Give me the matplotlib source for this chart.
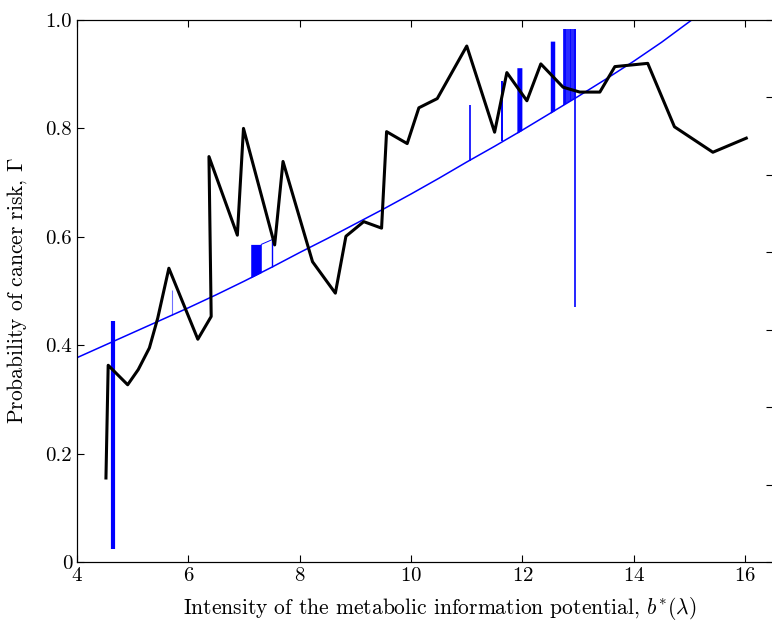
import numpy as np
import matplotlib.pyplot as plt

# observed probability of cancer risk vs metabolic information potential
b_obs = [4.52, 4.56, 4.91, 5.10, 5.30, 5.45, 5.65, 6.17, 6.41, 6.37, 6.88, 6.99,
         7.55, 7.70, 8.23, 8.64, 8.83, 9.15, 9.47, 9.56, 9.93, 10.14, 10.47,
         11.00, 11.50, 11.72, 12.08, 12.33, 12.73, 13.03, 13.39, 13.66, 14.25,
         14.73, 15.42, 16.02]
p_obs = [0.155, 0.363, 0.327, 0.355, 0.395, 0.450, 0.542, 0.411, 0.453, 0.748,
         0.603, 0.800, 0.585, 0.739, 0.554, 0.496, 0.601, 0.628, 0.616, 0.794,
         0.772, 0.838, 0.855, 0.952, 0.793, 0.903, 0.851, 0.919, 0.876, 0.867,
         0.867, 0.914, 0.920, 0.803, 0.756, 0.782]

# fitted risk curve
b_fit = [4.0, 4.5, 5.0, 5.5, 6.0, 6.5, 7.0, 7.5, 8.0, 8.5, 9.0, 9.5, 10.0,
         10.5, 11.0, 11.5, 12.0, 12.5, 13.0, 13.5, 14.0, 14.5, 15.04]
p_fit = [0.377, 0.400, 0.423, 0.446, 0.469, 0.493, 0.518, 0.544, 0.571, 0.597,
         0.624, 0.651, 0.679, 0.708, 0.738, 0.767, 0.797, 0.828, 0.859, 0.891,
         0.924, 0.959, 1.0]

# deviation bars (x, lower, upper)
bar_x = [4.64, 5.70, 7.51, 11.05, 11.64, 12.94]
bar_lo = [0.024, 0.456, 0.545, 0.739, 0.776, 0.470]
bar_hi = [0.445, 0.502, 0.595, 0.843, 0.888, 0.983]
bar_lw = [3.0, 0.8, 1.0, 1.2, 1.4, 1.2]
bar_col = ['#0000ff', '#7070ff', '#0000ff', '#0000ff', '#0000ff', '#0000ff']

# dense bar blocks (x start, x end, upper)
blk_x0 = [7.12, 11.90, 12.50]
blk_x1 = [7.31, 11.99, 12.58]
blk_hi = [0.586, 0.912, 0.961]

# striped cluster near b = 12.8
clu_x = [12.74, 12.765, 12.79, 12.82, 12.85, 12.88, 12.91, 12.935]
clu_hi = 0.983

plt.rcParams['font.family'] = 'cmr10'
plt.rcParams['mathtext.fontset'] = 'cm'
plt.rcParams['axes.unicode_minus'] = False
plt.rcParams['axes.formatter.use_mathtext'] = True

fig = plt.figure(figsize=(7.72, 6.21), dpi=100)
ax = fig.add_axes([77/772, 1-562/621, 696/772, 542/621])

def fit_at(x):
    return np.interp(x, b_fit, p_fit)

for x0, x1, hi in zip(blk_x0, blk_x1, blk_hi):
    xs = np.linspace(x0, x1, 10)
    ax.fill_between(xs, fit_at(xs), hi, color='#0000ff', lw=0)
ax.vlines(clu_x, fit_at(np.array(clu_x)), clu_hi, color='#0000ff', lw=1.2)
ax.vlines(bar_x, bar_lo, bar_hi, colors=bar_col, linewidths=bar_lw)
# thin link across the tops of the first block and the bar after it
ax.plot([blk_x1[0], bar_x[2]], [blk_hi[0], bar_hi[2]], color='#0000ff', lw=0.7)

ax.plot(b_fit, p_fit, color='#0000ff', lw=1.1)
ax.plot(b_obs, p_obs, color='k', lw=2.2)

ax.set_xlim(4, 16.5)
ax.set_ylim(0, 1)
ax.set_xticks([4, 6, 8, 10, 12, 14, 16])
ax.set_yticks([0, 0.2, 0.4, 0.6, 0.8, 1.0])
ax.set_yticklabels(['0', '0.2', '0.4', '0.6', '0.8', '1.0'])
ax.tick_params(direction='in', length=5, width=0.8, top=True, right=False,
               labelsize=15)
ax.set_xlabel(r'Intensity of the metabolic information potential, $b^{*}(\lambda)$',
              fontsize=15.5)
ax.set_ylabel(r'Probability of cancer risk, $\Gamma$', fontsize=15.5)
ax.xaxis.set_label_coords(0.522, -0.06)
ax.yaxis.set_label_coords(-0.069, 0.5)

ax2 = ax.twinx()
ax2.set_ylim(0, 7)
ax2.set_yticks(range(8))
ax2.tick_params(direction='in', length=5, width=0.8, labelright=False)

fig.savefig('out.png', dpi=100)
